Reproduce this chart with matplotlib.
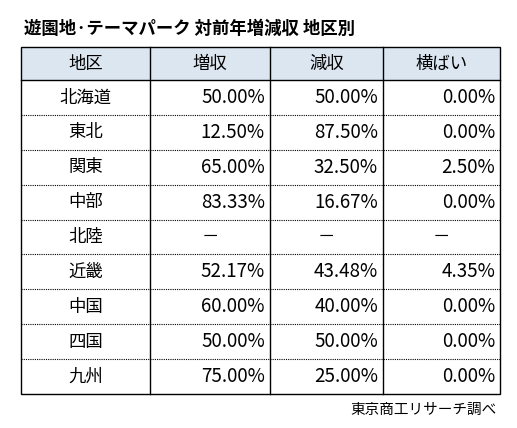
import matplotlib
matplotlib.use("Agg")
import matplotlib.pyplot as plt
from matplotlib.patches import Rectangle

plt.rcParams['font.family'] = ['Noto Sans CJK JP', 'DejaVu Sans']

title = "遊園地·テーマパーク 対前年増減収 地区別"
headers = ["地区", "増収", "減収", "横ばい"]
regions = ["北海道", "東北", "関東", "中部", "北陸", "近畿", "中国", "四国", "九州"]
increase = ["50.00%", "12.50%", "65.00%", "83.33%", "－", "52.17%", "60.00%", "50.00%", "75.00%"]
decrease = ["50.00%", "87.50%", "32.50%", "16.67%", "－", "43.48%", "40.00%", "50.00%", "25.00%"]
flat = ["0.00%", "0.00%", "2.50%", "0.00%", "－", "4.35%", "0.00%", "0.00%", "0.00%"]
source = "東京商工リサーチ調べ"

W, H = 517, 428
fig = plt.figure(figsize=(W/100, H/100), dpi=100)
ax = fig.add_axes([0, 0, 1, 1])
ax.set_xlim(0, W); ax.set_ylim(H, 0); ax.axis('off')

xs = [21, 150, 270, 383, 500]
top, hdr_bot, bot = 47, 80, 394
rh = (bot - hdr_bot) / len(regions)

ax.text(24, 29, title, fontsize=12.5, fontweight='bold', va='center', ha='left')
ax.add_patch(Rectangle((xs[0], top), xs[-1]-xs[0], hdr_bot-top, facecolor='#dce6f1', edgecolor='none'))
for i, h in enumerate(headers):
    ax.text((xs[i]+xs[i+1])/2, (top+hdr_bot)/2, h, fontsize=12.5, ha='center', va='center')

for r in range(len(regions)):
    yc = hdr_bot + rh*(r+0.5)
    ax.text((xs[0]+xs[1])/2, yc, regions[r], fontsize=12.5, ha='center', va='center')
    for c, vals in enumerate([increase, decrease, flat]):
        v = vals[r]
        if v == "－":
            ax.text((xs[c+1]+xs[c+2])/2, yc, v, fontsize=12.5, ha='center', va='center')
        else:
            ax.text(xs[c+2]-5, yc, v, fontsize=13.5, ha='right', va='center')
    if r > 0:
        y = hdr_bot + rh*r
        ax.plot([xs[0], xs[-1]], [y, y], color='black', lw=0.8, ls=(0, (1, 1)))

ax.plot([xs[0], xs[-1]], [hdr_bot, hdr_bot], color='black', lw=1)
ax.add_patch(Rectangle((xs[0], top), xs[-1]-xs[0], bot-top, facecolor='none', edgecolor='black', lw=1))
for x in xs[1:-1]:
    ax.plot([x, x], [top, bot], color='black', lw=1)

ax.text(497, 410, source, fontsize=10.5, ha='right', va='center')
fig.savefig("out.png", dpi=100)
